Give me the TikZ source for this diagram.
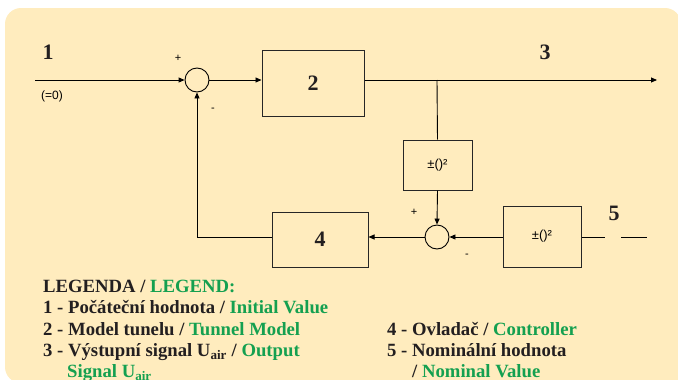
\documentclass[tikz,border=0pt]{standalone}
\usepackage{fontspec}
\setmainfont{Liberation Serif}
\newfontfamily\sansf{Liberation Sans}
\usetikzlibrary{arrows.meta}
\definecolor{bg}{RGB}{255,236,190}
\definecolor{leggreen}{RGB}{20,160,80}
\definecolor{legdark}{RGB}{35,31,32}
\begin{document}
\begin{tikzpicture}[x=1pt,y=-1pt,
  blk/.style={draw=black!85,line width=1pt,inner sep=0pt},
  sumc/.style={circle,draw,line width=0.9pt,minimum size=24pt,inner sep=0pt},
  sig/.style={line width=0.9pt},
  arr/.style={sig,-{Triangle[length=6pt,width=5pt]}},
  num/.style={font=\fontsize{22}{22}\selectfont\bfseries,text=legdark},
  sgn/.style={font=\sansf\fontsize{11}{11}\selectfont,inner sep=0pt},
  sq/.style={font=\sansf\fontsize{13}{13}\selectfont},
  leg/.style={anchor=base west,inner sep=0pt,text=legdark,font=\fontsize{18.7}{18.7}\selectfont\bfseries},
]
\useasboundingbox (0,0) rectangle (678,380);
\fill[bg,rounded corners=16pt] (5,8) rectangle (681,383);
\fill[bg] (600,300) rectangle (681,383);

% blocks
\node[sumc] (s1) at (197,80) {};
\node[blk,minimum width=102pt,minimum height=66pt,num] (b2) at (313,83) {2};
\node[blk,minimum width=69pt,minimum height=50pt,sq] (sq1) at (437.5,165) {±()²};
\node[sumc] (s2) at (437,237) {};
\node[blk,minimum width=78pt,minimum height=61pt,sq] (sq2) at (542,236.5) {±()²};
\node[blk,minimum width=96pt,minimum height=55pt,num] (b4) at (320,239.5) {4};

% free ends
\coordinate (in) at (35,80);
\coordinate (out) at (657,80);
\coordinate (br) at (437,80);
\coordinate (fb) at (197,237);
\coordinate (e5a) at (605,237);
\coordinate (e5b) at (621,237);
\coordinate (e5c) at (647,237);

% connectors
\draw[arr] (in) -- (s1.west);
\draw[arr] (s1.east) -- (b2.west |- s1.east);
\draw[arr] (b2.east |- s1.east) -- (out);
\draw[sig] (br) -- (sq1.north);
\draw[arr] (sq1.south) -- (s2.north);
\draw[arr] (sq2.west |- s2.east) -- (s2.east);
\draw[arr] (s2.west) -- (b4.east |- s2.west);
\draw[arr] (b4.west |- s2.west) -- (fb) -- (s1.south);
\draw[sig] (sq2.east |- s2.east) -- (e5a);
\draw[sig] (e5b) -- (e5c);

% labels
\node[num] (l1) at (48,52) {1};
\node[num] (l3) at (545,52) {3};
\node[num] (l5) at (614,213) {5};
\node[font=\sansf\fontsize{12}{12}\selectfont] (l0) at (52,96) {(=0)};
\node[sgn] (p1) at (178,58) {+};
\node[sgn] (m1) at (213,110) {-};
\node[sgn] (p2) at (414,212) {+};
\node[sgn] (m2) at (467,256) {-};

% legend
\node[leg] (g0) at (43,292) {LEGENDA / \textcolor{leggreen}{LEGEND:}};
\node[leg] (g1) at (43,313.5) {1 - Počáteční hodnota / \textcolor{leggreen}{Initial Value}};
\node[leg] (g2) at (43,335) {2 - Model tunelu / \textcolor{leggreen}{Tunnel Model}};
\node[leg] (g3) at (43,356.5) {3 - Výstupní signal U\textsubscript{air} / \textcolor{leggreen}{Output}};
\node[leg] (g3b) at (67,377) {\textcolor{leggreen}{Signal U\textsubscript{air}}};
\node[leg] (g4) at (387,335) {4 - Ovladač / \textcolor{leggreen}{Controller}};
\node[leg] (g5) at (387,356.5) {5 - Nominální hodnota};
\node[leg] (g5b) at (412,377) {/ \textcolor{leggreen}{Nominal Value}};
\end{tikzpicture}
\end{document}
